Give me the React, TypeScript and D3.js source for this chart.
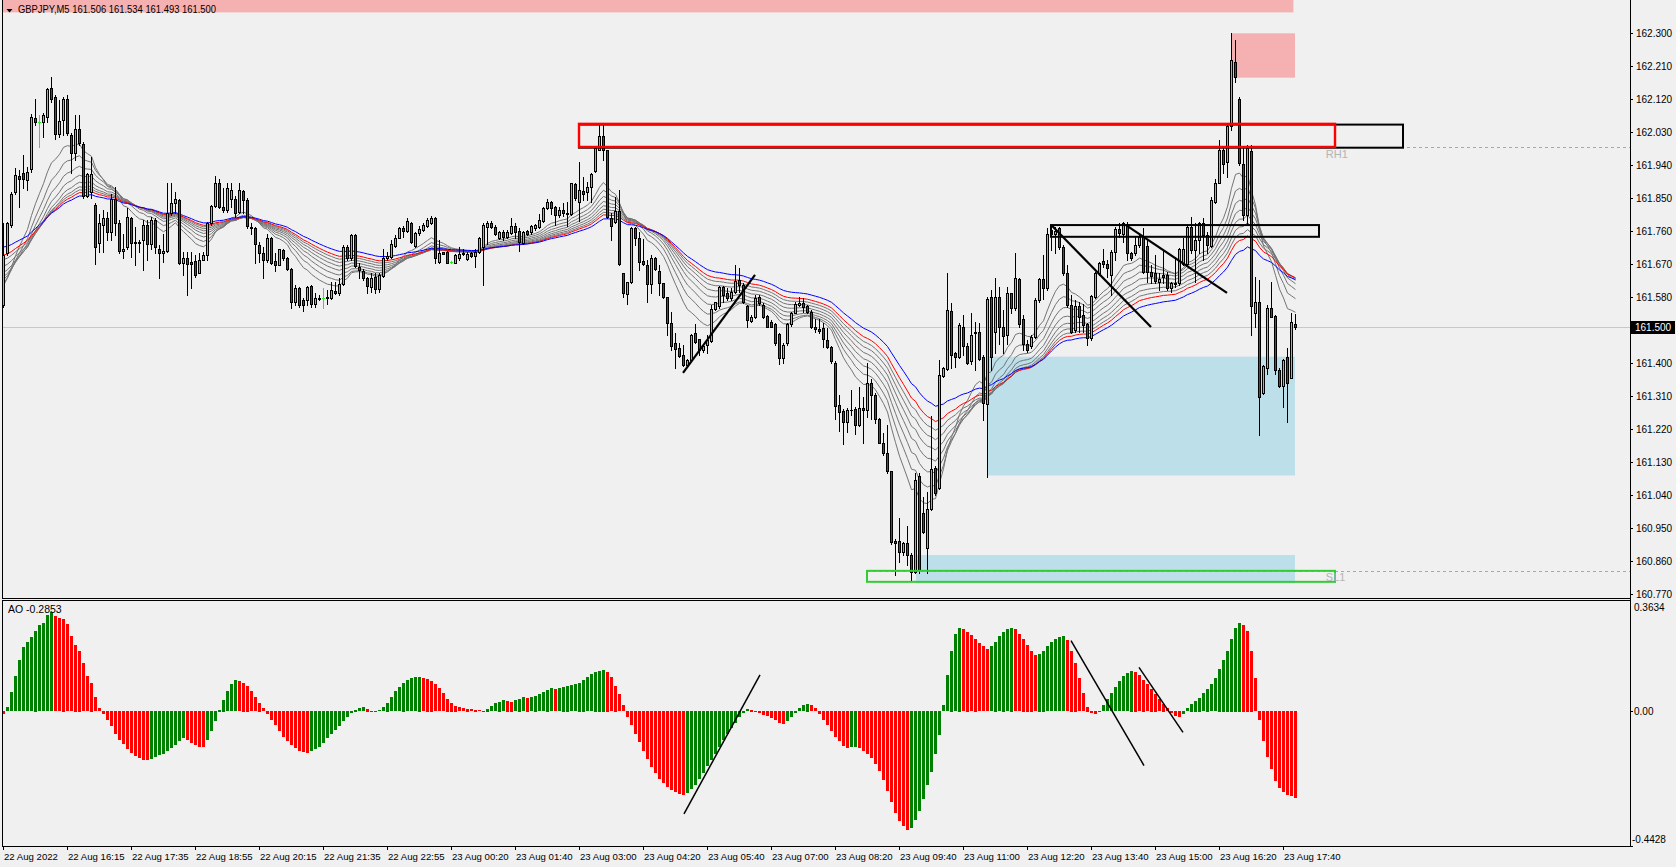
import React from 'react';
import * as d3 from 'd3';

const W = 1676;
const H = 867;

// ---------- OHLC (GBPJPY M5) ----------
const opens = [
161.559,161.700,161.777,161.868,161.912,161.918,161.900,161.929,162.068,162.059,162.059,162.072,162.150,162.125,162.025,162.063,162.122,162.022,161.974,162.038,
161.998,161.856,161.868,161.832,161.727,161.777,161.795,161.759,161.847,161.782,161.707,161.718,161.795,161.732,161.729,161.736,161.777,161.725,161.791,161.713,
161.702,161.707,161.811,161.836,161.845,161.674,161.686,161.677,161.680,161.647,161.683,161.695,161.783,161.830,161.892,161.827,161.818,161.847,161.847,161.813,
161.871,161.845,161.772,161.768,161.722,161.702,161.683,161.741,161.679,161.669,161.709,161.686,161.656,161.568,161.606,161.573,161.573,161.611,161.562,161.577,
161.579,161.580,161.577,161.597,161.591,161.615,161.718,161.686,161.750,161.663,161.652,161.632,161.609,161.636,161.602,161.639,161.686,161.689,161.720,161.743,
161.770,161.762,161.784,161.721,161.756,161.763,161.774,161.782,161.795,161.677,161.703,161.704,161.675,161.674,161.686,161.702,161.685,161.700,161.694,161.704,
161.718,161.773,161.782,161.773,161.743,161.757,161.745,161.756,161.774,161.761,161.727,161.761,161.757,161.768,161.771,161.789,161.823,161.839,161.827,161.804,
161.818,161.811,161.807,161.888,161.841,161.870,161.868,161.880,161.925,161.983,162.020,161.982,161.795,161.786,161.815,161.645,161.589,161.621,161.768,161.741,
161.679,161.668,161.615,161.686,161.652,161.618,161.580,161.509,161.455,161.441,161.423,161.395,161.409,161.482,161.465,161.435,161.450,161.462,161.547,161.555,
161.609,161.591,161.577,161.595,161.627,161.614,161.556,161.516,161.525,161.582,161.559,161.529,161.514,161.507,161.479,161.414,161.455,161.506,161.538,161.559,
161.564,161.556,161.541,161.500,161.493,161.495,161.464,161.445,161.402,161.286,161.271,161.241,161.273,161.276,161.232,161.277,161.273,161.346,161.314,161.247,
161.184,161.155,161.105,160.916,160.916,160.886,160.909,160.877,160.832,161.093,160.991,160.896,161.002,161.114,161.059,161.366,161.384,161.543,161.427,161.418,
161.500,161.448,161.405,161.482,161.486,161.418,161.289,161.582,161.486,161.580,161.498,161.477,161.591,161.550,161.629,161.520,161.454,161.447,161.472,161.572,
161.629,161.604,161.754,161.754,161.768,161.718,161.645,161.559,161.491,161.556,161.532,161.507,161.468,161.582,161.645,161.679,161.672,161.641,161.704,161.765,
161.754,161.780,161.700,161.700,161.722,161.745,161.720,161.650,161.647,161.622,161.642,161.642,161.604,161.618,161.618,161.672,161.672,161.772,161.709,161.736,
161.783,161.750,161.720,161.841,161.893,161.983,161.950,162.047,162.222,162.122,161.943,161.804,161.979,161.536,161.568,161.318,161.386,161.550,161.529,161.381,
161.338,161.416,161.361,161.506];

const highs = [
161.782,161.786,161.868,161.932,161.927,161.968,161.936,162.080,162.122,162.077,162.082,162.150,162.182,162.132,162.118,162.125,162.133,162.027,162.077,162.077,
162.004,161.918,161.963,161.836,161.807,161.818,161.813,161.863,161.882,161.791,161.754,161.823,161.800,161.772,161.736,161.791,161.791,161.800,161.795,161.722,
161.754,161.891,161.891,161.868,161.847,161.704,161.704,161.704,161.695,161.700,161.704,161.786,161.832,161.912,161.904,161.877,161.891,161.891,161.856,161.891,
161.874,161.850,161.782,161.772,161.732,161.718,161.754,161.745,161.700,161.713,161.713,161.691,161.659,161.613,161.609,161.577,161.611,161.614,161.591,161.586,
161.604,161.600,161.623,161.623,161.632,161.723,161.723,161.754,161.752,161.673,161.656,161.636,161.645,161.645,161.645,161.713,161.704,161.736,161.750,161.773,
161.774,161.795,161.786,161.759,161.774,161.782,161.795,161.802,161.798,161.736,161.704,161.707,161.680,161.698,161.716,161.713,161.704,161.704,161.711,161.745,
161.783,161.789,161.789,161.777,161.761,161.764,161.764,161.797,161.783,161.768,161.761,161.764,161.777,161.780,161.807,161.825,161.847,161.843,161.829,161.827,
161.836,161.841,161.893,161.891,161.950,161.909,161.895,161.918,161.991,162.050,162.050,161.983,161.809,161.854,161.874,161.647,161.623,161.773,161.773,161.759,
161.738,161.682,161.695,161.691,161.668,161.620,161.582,161.541,161.482,161.455,161.450,161.411,161.480,161.507,161.467,161.450,161.477,161.559,161.568,161.611,
161.611,161.605,161.605,161.668,161.659,161.618,161.559,161.532,161.586,161.586,161.564,161.532,161.518,161.509,161.482,161.455,161.509,161.541,161.568,161.580,
161.577,161.559,161.544,161.520,161.520,161.509,161.495,161.447,161.405,161.314,161.275,161.277,161.326,161.280,161.336,161.309,161.402,161.356,161.318,161.250,
161.211,161.232,161.107,160.920,160.977,160.914,160.955,160.882,161.102,161.100,161.036,161.050,161.255,161.120,161.409,161.391,161.645,161.564,161.432,161.509,
161.532,161.455,161.538,161.514,161.509,161.422,161.582,161.600,161.632,161.609,161.545,161.609,161.593,161.700,161.632,161.532,161.463,161.477,161.577,161.632,
161.695,161.768,161.771,161.773,161.773,161.722,161.668,161.586,161.572,161.568,161.563,161.509,161.586,161.650,161.677,161.711,161.683,161.709,161.773,161.782,
161.786,161.786,161.704,161.745,161.754,161.768,161.736,161.668,161.695,161.645,161.709,161.650,161.622,161.691,161.714,161.741,161.777,161.800,161.782,161.786,
161.795,161.759,161.854,161.904,162.009,161.991,162.050,162.300,162.281,162.127,161.991,161.995,161.995,161.636,161.627,161.395,161.559,161.622,161.532,161.386,
161.413,161.441,161.536,161.534];

const lows = [
161.554,161.695,161.772,161.863,161.827,161.877,161.872,161.923,162.050,161.991,162.018,162.059,162.113,162.012,162.018,162.022,162.022,161.918,161.954,161.995,
161.850,161.854,161.850,161.671,161.704,161.704,161.736,161.736,161.750,161.700,161.686,161.713,161.691,161.668,161.704,161.654,161.682,161.713,161.700,161.632,
161.677,161.704,161.804,161.809,161.671,161.641,161.586,161.604,161.636,161.645,161.682,161.682,161.777,161.827,161.823,161.813,161.813,161.827,161.800,161.809,
161.809,161.768,161.754,161.674,161.677,161.632,161.677,161.671,161.652,161.668,161.682,161.654,161.552,161.559,161.554,161.543,161.559,161.554,161.554,161.573,
161.550,161.563,161.574,161.589,161.586,161.613,161.682,161.682,161.663,161.632,161.627,161.593,161.595,161.593,161.595,161.636,161.682,161.686,161.718,161.741,
161.745,161.759,161.729,161.718,161.750,161.762,161.773,161.780,161.673,161.674,161.697,161.673,161.673,161.673,161.683,161.695,161.683,161.691,161.663,161.702,
161.613,161.725,161.768,161.750,161.738,161.736,161.743,161.754,161.741,161.707,161.725,161.750,161.754,161.763,161.768,161.786,161.821,161.807,161.777,161.800,
161.802,161.774,161.804,161.845,161.789,161.845,161.845,161.841,161.923,161.982,161.954,161.795,161.736,161.782,161.668,161.580,161.563,161.618,161.723,161.654,
161.668,161.568,161.591,161.655,161.586,161.577,161.477,161.436,161.386,161.418,161.393,161.393,161.405,161.455,161.423,161.432,161.429,161.459,161.544,161.550,
161.568,161.573,161.573,161.591,161.595,161.565,161.500,161.514,161.523,161.559,161.523,161.498,161.498,161.450,161.398,161.402,161.450,161.502,161.536,161.556,
161.541,161.538,161.495,161.486,161.482,161.445,161.441,161.402,161.247,161.216,161.180,161.214,161.259,161.207,161.229,161.182,161.253,161.247,161.236,161.182,
161.150,161.102,160.907,160.823,160.859,160.877,160.850,160.809,160.829,160.829,160.936,160.827,161.000,161.041,161.056,161.364,161.382,161.386,161.391,161.414,
161.423,161.398,161.398,161.382,161.409,161.245,161.091,161.381,161.427,161.454,161.427,161.454,161.536,161.545,161.500,161.436,161.432,161.441,161.468,161.568,
161.574,161.600,161.709,161.700,161.713,161.641,161.554,161.482,161.486,161.486,161.486,161.450,161.463,161.577,161.641,161.663,161.636,161.586,161.682,161.745,
161.732,161.683,161.683,161.695,161.718,161.645,161.623,161.618,161.618,161.600,161.618,161.601,161.595,161.609,161.613,161.668,161.668,161.700,161.623,161.700,
161.682,161.700,161.718,161.838,161.891,161.918,161.909,162.036,162.168,161.941,161.790,161.780,161.477,161.500,161.204,161.316,161.372,161.525,161.372,161.336,
161.282,161.241,161.359,161.493];

const closes = [
161.695,161.782,161.863,161.913,161.902,161.904,161.923,162.071,162.059,162.059,162.077,162.148,162.120,162.025,162.062,162.122,162.027,161.974,162.038,162.000,
161.856,161.915,161.916,161.718,161.783,161.795,161.759,161.847,161.782,161.707,161.713,161.798,161.729,161.727,161.732,161.777,161.725,161.791,161.716,161.700,
161.707,161.811,161.836,161.847,161.674,161.686,161.672,161.671,161.641,161.683,161.695,161.783,161.830,161.893,161.827,161.818,161.877,161.874,161.809,161.872,
161.845,161.774,161.768,161.725,161.702,161.682,161.742,161.674,161.668,161.711,161.686,161.656,161.568,161.606,161.559,161.559,161.609,161.563,161.577,161.575,
161.579,161.578,161.600,161.591,161.615,161.718,161.686,161.750,161.665,161.654,161.632,161.612,161.633,161.602,161.641,161.686,161.693,161.725,161.741,161.770,
161.762,161.788,161.732,161.756,161.766,161.777,161.791,161.795,161.686,161.700,161.699,161.674,161.675,161.695,161.697,161.697,161.698,161.694,161.704,161.743,
161.777,161.784,161.773,161.752,161.757,161.745,161.757,161.775,161.759,161.732,161.759,161.754,161.774,161.777,161.791,161.823,161.841,161.824,161.804,161.818,
161.811,161.807,161.891,161.850,161.874,161.863,161.880,161.916,161.986,162.020,161.983,161.798,161.774,161.815,161.670,161.591,161.621,161.768,161.741,161.677,
161.670,161.615,161.686,161.656,161.618,161.582,161.509,161.447,161.438,161.420,161.395,161.409,161.477,161.459,161.435,161.447,161.464,161.547,161.566,161.609,
161.586,161.577,161.595,161.625,161.614,161.568,161.518,161.527,161.577,161.564,161.527,161.500,161.500,161.455,161.414,161.450,161.506,161.538,161.562,161.565,
161.553,161.541,161.500,161.493,161.488,161.465,161.445,161.405,161.284,161.268,161.241,161.273,161.272,161.232,161.277,161.273,161.346,161.314,161.247,161.184,
161.155,161.105,160.914,160.911,160.886,160.909,160.877,160.832,161.082,160.835,160.941,161.002,161.111,161.045,161.368,161.386,161.545,161.423,161.418,161.505,
161.447,161.402,161.477,161.486,161.413,161.291,161.574,161.418,161.580,161.498,161.474,161.591,161.550,161.632,161.507,161.454,161.436,161.471,161.572,161.629,
161.604,161.752,161.764,161.762,161.718,161.645,161.559,161.486,161.556,161.527,161.504,161.468,161.583,161.647,161.674,161.672,161.659,161.704,161.765,161.756,
161.782,161.700,161.686,161.722,161.745,161.650,161.650,161.638,161.625,161.631,161.636,161.604,161.620,161.616,161.711,161.713,161.772,161.709,161.736,161.783,
161.750,161.722,161.845,161.893,161.983,161.943,162.047,162.227,162.180,161.945,161.804,161.986,161.556,161.568,161.309,161.392,161.550,161.527,161.381,161.338,
161.409,161.345,161.513,161.500];

// ---------- Awesome Oscillator ----------
const aoValues = [
-0.010,0.014,0.063,0.115,0.168,0.211,0.228,0.244,0.266,0.283,0.290,0.316,0.327,0.313,0.306,0.305,0.287,0.248,0.220,0.200,
0.158,0.116,0.095,0.047,0.010,-0.010,-0.030,-0.050,-0.075,-0.095,-0.110,-0.125,-0.138,-0.148,-0.155,-0.160,-0.162,-0.158,-0.152,-0.146,
-0.140,-0.132,-0.123,-0.112,-0.100,-0.090,-0.095,-0.104,-0.112,-0.117,-0.119,-0.095,-0.065,-0.033,0.005,0.038,0.066,0.090,0.102,0.100,
0.094,0.085,0.066,0.047,0.028,0.010,-0.010,-0.028,-0.047,-0.066,-0.085,-0.100,-0.113,-0.123,-0.130,-0.135,-0.137,-0.132,-0.126,-0.117,
-0.104,-0.090,-0.076,-0.062,-0.048,-0.034,-0.020,-0.006,0.005,0.011,0.014,0.009,0.003,-0.004,0.004,0.014,0.028,0.047,0.066,0.080,
0.094,0.103,0.109,0.112,0.114,0.110,0.107,0.101,0.090,0.077,0.060,0.042,0.028,0.019,0.014,0.011,0.009,0.007,0.005,0.004,
0.003,0.009,0.018,0.027,0.032,0.037,0.035,0.032,0.037,0.042,0.047,0.045,0.047,0.052,0.057,0.064,0.071,0.076,0.074,0.076,
0.081,0.084,0.086,0.090,0.095,0.104,0.113,0.122,0.130,0.134,0.137,0.130,0.112,0.085,0.056,0.020,-0.020,-0.047,-0.075,-0.103,
-0.130,-0.158,-0.185,-0.205,-0.223,-0.237,-0.250,-0.260,-0.267,-0.272,-0.277,-0.270,-0.256,-0.242,-0.223,-0.204,-0.180,-0.161,-0.142,-0.118,
-0.095,-0.076,-0.057,-0.038,-0.020,-0.005,0.008,0.005,-0.003,-0.008,-0.012,-0.015,-0.022,-0.030,-0.038,-0.043,-0.034,-0.020,-0.005,0.010,
0.020,0.025,0.020,0.010,-0.010,-0.028,-0.047,-0.065,-0.084,-0.100,-0.115,-0.122,-0.120,-0.117,-0.122,-0.131,-0.140,-0.155,-0.175,-0.198,
-0.226,-0.262,-0.298,-0.335,-0.362,-0.380,-0.393,-0.385,-0.360,-0.330,-0.290,-0.245,-0.200,-0.140,-0.080,0.020,0.120,0.200,0.255,0.275,
0.270,0.262,0.250,0.240,0.225,0.215,0.205,0.215,0.230,0.248,0.262,0.270,0.275,0.270,0.255,0.240,0.220,0.200,0.185,0.190,
0.200,0.215,0.228,0.238,0.245,0.248,0.235,0.200,0.160,0.110,0.060,0.015,-0.008,-0.010,0.000,0.020,0.040,0.060,0.080,0.100,
0.115,0.125,0.134,0.130,0.120,0.105,0.090,0.075,0.058,0.040,0.025,0.010,-0.005,-0.015,-0.020,-0.010,0.010,0.025,0.035,0.045,
0.060,0.075,0.090,0.110,0.140,0.170,0.200,0.240,0.275,0.292,0.285,0.265,0.200,0.110,-0.030,-0.100,-0.150,-0.190,-0.230,-0.255,
-0.265,-0.275,-0.280,-0.2853];

// ---------- axes ----------
const priceTicks = [162.300,162.210,162.120,162.030,161.940,161.850,161.760,161.670,161.580,161.490,161.400,161.310,161.220,161.130,161.040,160.950,160.860,160.770];
const priceDomain = [160.770, 162.300];
const aoDomain = [-0.4428, 0.3634];
const aoTickLabels = ['0.3634', '0.00', '-0.4428'];
const timeLabels = ['22 Aug 2022','22 Aug 16:15','22 Aug 17:35','22 Aug 18:55','22 Aug 20:15','22 Aug 21:35','22 Aug 22:55','23 Aug 00:20','23 Aug 01:40','23 Aug 03:00','23 Aug 04:20','23 Aug 05:40','23 Aug 07:00','23 Aug 08:20','23 Aug 09:40','23 Aug 11:00','23 Aug 12:20','23 Aug 13:40','23 Aug 15:00','23 Aug 16:20','23 Aug 17:40'];
const timeLabelBars = [0,16,32,48,64,80,96,112,128,144,160,176,192,208,224,240,256,272,288,304,320];

// ---------- moving averages (EMA of close) ----------
const grayPeriods = [15, 20, 25, 30, 35, 40, 45];
const graySeeds = [161.600, 161.610, 161.622, 161.632, 161.645, 161.663, 161.682];
const redPeriod = 50, redSeed = 161.695;
const bluePeriod = 60, blueSeed = 161.718;

// ---------- chart objects (bar index, price) ----------
const filledRects = [
  { x0: -2, x1: 322.6, p0: 162.357, p1: 162.700, color: '#f5b1b1' },
  { x0: 307.25, x1: 323, p0: 162.179, p1: 162.300, color: '#f5b1b1' },
  { x0: 246.2, x1: 323, p0: 161.094, p1: 161.418, color: '#bcdfea' },
  { x0: 228.25, x1: 323, p0: 160.800, p1: 160.877, color: '#bcdfea' },
];
const outlineRects = [
  { x0: 144, x1: 350, p0: 161.988, p1: 162.051, color: '#000000', w: 2 },
  { x0: 144, x1: 333, p0: 161.990, p1: 162.053, color: '#ff0000', w: 2.4 },
  { x0: 262, x1: 329, p0: 161.745, p1: 161.777, color: '#000000', w: 2 },
  { x0: 216, x1: 333, p0: 160.804, p1: 160.834, color: '#33cc33', w: 2 },
];
const levelLines = [
  { x0: 144, p: 161.989, label: 'RH1', labelP: 161.960 },
  { x0: 216, p: 160.834, label: 'SL1', labelP: 160.805 },
];
const levelLabelBar = 330.7;
const priceTrendLines = [
  { i0: 170, p0: 161.374, i1: 188, p1: 161.641 },
  { i0: 262.25, p0: 161.775, i1: 287, p1: 161.499 },
  { i0: 280.75, p0: 161.777, i1: 306, p1: 161.592 },
];
const aoTrendLines = [
  { i0: 170.25, v0: -0.337, i1: 189.25, v1: 0.120 },
  { i0: 267, v0: 0.233, i1: 285.25, v1: -0.178 },
  { i0: 284, v0: 0.145, i1: 295, v1: -0.069 },
];
const symbolTitle = 'GBPJPY,M5  161.506 161.534 161.493 161.500';
const lastPrice = 161.500;
const aoTitle = 'AO -0.2853';

function ema(values: number[], period: number, seed: number) {
  const k = 2 / (period + 1);
  let e = seed;
  return values.map(v => (e = e + k * (v - e)));
}

const FONT = "'Liberation Sans', Arial, sans-serif";

export default function App() {
  const n = closes.length;
  const x = d3.scaleLinear().domain([0, 1]).range([3, 7]);
  const yP = d3.scaleLinear().domain(priceDomain).range([594.3, 33.3]);
  const yA = d3.scaleLinear().domain(aoDomain).range([846, 601]);
  const AXIS_X = 1630;

  const grayLines = grayPeriods.map((p, k) => ema(closes, p, graySeeds[k]));
  const redLine = ema(closes, redPeriod, redSeed);
  const blueLine = ema(closes, bluePeriod, blueSeed);
  const line = d3.line<number>().x((_, i) => x(i) + 0.5).y(v => yP(v));

  const candles = d3.range(n).map(i => {
    const o = opens[i], c = closes[i], h = highs[i], l = lows[i];
    const cx = Math.round(x(i));
    const yH = Math.round(yP(h)), yL = Math.round(yP(l));
    const top = Math.round(yP(Math.max(o, c))), bot = Math.round(yP(Math.min(o, c)));
    if (o === c) {
      return (
        <g key={i}>
          <rect x={cx} y={yH} width={1} height={yL - yH + 1} fill="#22ee22" />
          <rect x={cx - 1} y={top} width={3} height={1} fill="#22ee22" />
        </g>
      );
    }
    const up = c > o;
    const hh = Math.max(1, bot - top + 1);
    return (
      <g key={i}>
        <rect x={cx} y={yH} width={1} height={yL - yH + 1} fill="#000" />
        <rect x={cx - 1} y={top} width={3} height={hh} fill="#000" />
        {hh > 2 && <rect x={cx} y={top + 1} width={1} height={hh - 2} fill={up ? '#8fd41c' : '#e01010'} />}
      </g>
    );
  });

  const zeroY = yA(0);
  const aoBars = aoValues.map((v, i) => {
    const cx = Math.round(x(i));
    const yv = yA(v);
    const up = i === 0 ? v >= 0 : v > aoValues[i - 1];
    const y0 = Math.round(Math.min(yv, zeroY));
    const hgt = Math.max(1, Math.round(Math.abs(yv - zeroY)));
    return <rect key={i} x={cx - 1} y={y0} width={3} height={hgt} fill={up ? '#008000' : '#ff0000'} />;
  });

  return (
    <svg width={W} height={H} style={{ position: 'absolute', left: 0, top: 0, display: 'block' }} fontFamily={FONT}>
      <defs>
        <clipPath id="mainClip"><rect x={3} y={0} width={AXIS_X - 3} height={598} /></clipPath>
        <clipPath id="aoClip"><rect x={3} y={601} width={AXIS_X - 3} height={245} /></clipPath>
      </defs>
      <rect x={0} y={0} width={W} height={H} fill="#f0f0f0" />

      {/* main window */}
      <g clipPath="url(#mainClip)">
        {filledRects.map((r, k) => (
          <rect key={k} x={x(r.x0)} y={yP(r.p1)} width={x(r.x1) - x(r.x0)} height={yP(r.p0) - yP(r.p1)} fill={r.color} />
        ))}
        <line x1={3} x2={AXIS_X} y1={Math.round(yP(lastPrice)) + 0.5} y2={Math.round(yP(lastPrice)) + 0.5} stroke="#c8c8c8" strokeWidth={1} />
        {levelLines.map((l, k) => (
          <line key={k} x1={x(l.x0)} x2={AXIS_X} y1={Math.round(yP(l.p)) + 0.5} y2={Math.round(yP(l.p)) + 0.5} stroke="#a8a8a8" strokeWidth={1} strokeDasharray="3,3" />
        ))}
        {grayLines.map((g, k) => (
          <path key={k} d={line(g) || ''} fill="none" stroke="#747474" strokeWidth={1} />
        ))}
        <path d={line(redLine) || ''} fill="none" stroke="#ff0000" strokeWidth={1} />
        <path d={line(blueLine) || ''} fill="none" stroke="#0000ff" strokeWidth={1} />
        {candles}
        {outlineRects.map((r, k) => (
          <rect key={k} x={x(r.x0)} y={yP(r.p1)} width={x(r.x1) - x(r.x0)} height={yP(r.p0) - yP(r.p1)} fill="none" stroke={r.color} strokeWidth={r.w} />
        ))}
        {levelLines.map((l, k) => (
          <text key={k} x={x(levelLabelBar)} y={yP(l.labelP)} fontSize={11} fill="#b4b4b4">{l.label}</text>
        ))}
        {priceTrendLines.map((t, k) => (
          <line key={k} x1={x(t.i0)} y1={yP(t.p0)} x2={x(t.i1)} y2={yP(t.p1)} stroke="#000" strokeWidth={2.2} />
        ))}
      </g>

      {/* title bar */}
      <path d="M6.5,9 L12.5,9 L9.5,12.5 Z" fill="#000" />
      <text x={18} y={13} fontSize={11} fill="#000" textLength={198} lengthAdjust="spacingAndGlyphs">{symbolTitle}</text>

      {/* main frame */}
      <line x1={2.5} y1={0} x2={2.5} y2={598.5} stroke="#000" />
      <line x1={2} y1={598.5} x2={AXIS_X} y2={598.5} stroke="#000" />
      <line x1={AXIS_X + 0.5} y1={0} x2={AXIS_X + 0.5} y2={847} stroke="#000" />

      {/* price axis */}
      {priceTicks.map((p, k) => (
        <g key={k}>
          <line x1={AXIS_X} x2={AXIS_X + 3} y1={Math.round(yP(p)) + 0.5} y2={Math.round(yP(p)) + 0.5} stroke="#000" />
          <text x={1636} y={yP(p) + 3.8} fontSize={10} fill="#000">{p.toFixed(3)}</text>
        </g>
      ))}
      <rect x={AXIS_X + 1} y={Math.round(yP(lastPrice)) - 6} width={44} height={13} fill="#000" />
      <text x={1635} y={yP(lastPrice) + 4} fontSize={10} fill="#fff">{lastPrice.toFixed(3)}</text>

      {/* AO window */}
      <line x1={2} y1={600.5} x2={AXIS_X} y2={600.5} stroke="#000" />
      <line x1={2.5} y1={600} x2={2.5} y2={846.5} stroke="#000" />
      <line x1={2} y1={846.5} x2={AXIS_X + 3} y2={846.5} stroke="#000" />
      <g clipPath="url(#aoClip)">
        {aoBars}
        {aoTrendLines.map((t, k) => (
          <line key={k} x1={x(t.i0)} y1={yA(t.v0)} x2={x(t.i1)} y2={yA(t.v1)} stroke="#000" strokeWidth={1.5} />
        ))}
      </g>
      <text x={8} y={613} fontSize={10.5} fill="#000">{aoTitle}</text>
      <text x={1634} y={611} fontSize={10} fill="#000">{aoTickLabels[0]}</text>
      <line x1={AXIS_X} x2={AXIS_X + 3} y1={Math.round(yA(0)) + 0.5} y2={Math.round(yA(0)) + 0.5} stroke="#000" />
      <text x={1634} y={yA(0) + 4} fontSize={10} fill="#000">{aoTickLabels[1]}</text>
      <text x={1632} y={843} fontSize={10} fill="#000">{aoTickLabels[2]}</text>

      {/* time axis */}
      {timeLabels.map((t, k) => {
        const tx = Math.round(x(timeLabelBars[k]));
        return (
          <g key={k}>
            <line x1={tx + 0.5} x2={tx + 0.5} y1={846} y2={850} stroke="#000" />
            <text x={tx + 1} y={860} fontSize={9.6} fill="#000">{t}</text>
          </g>
        );
      })}
    </svg>
  );
}
